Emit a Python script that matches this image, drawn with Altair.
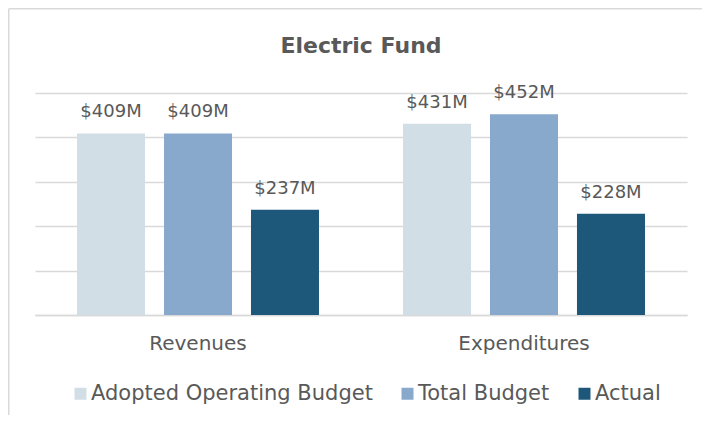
import altair as alt
import pandas as pd

FONT = "DejaVu Sans"
TEXT = "#595959"
GRID = "#d9d9d9"

categories = ["Revenues", "Expenditures"]
series = ["Adopted Operating Budget", "Total Budget", "Actual"]
adopted = [409, 431]
total = [409, 452]
actual = [237, 228]
colors = ["#d1dee6", "#88a9cc", "#1d587a"]
y_ticks = [0, 100, 200, 300, 400, 500]

rows = []
for i, c in enumerate(categories):
    for s, vals in zip(series, [adopted, total, actual]):
        rows.append({"category": c, "series": s, "value": vals[i], "label": f"${vals[i]}M"})
df = pd.DataFrame(rows)

W, H = 652, 222
PL, PT, PR, PB = 27, 85, 15, 100

x = alt.X(
    "category:N", sort=categories, title=None,
    scale=alt.Scale(paddingInner=0, paddingOuter=0),
    axis=alt.Axis(labelAngle=0, labelFontSize=20, labelColor=TEXT, labelFont=FONT,
                  labelPadding=18, ticks=False, domainColor=GRID, domainWidth=1.5, grid=False),
)
xo = alt.XOffset("series:N", sort=series, scale=alt.Scale(paddingInner=0.218, paddingOuter=0.483))
y = alt.Y(
    "value:Q", scale=alt.Scale(domain=[0, 500]),
    axis=alt.Axis(values=y_ticks, labels=False, ticks=False, domain=False,
                  gridColor=GRID, gridWidth=1.3, title=None),
)
color = alt.Color(
    "series:N", sort=series,
    scale=alt.Scale(domain=series, range=colors),
    legend=alt.Legend(title=None, orient="none", legendX=35, legendY=290,
                      direction="horizontal", symbolType="square", symbolSize=144,
                      symbolStrokeWidth=0, labelFontSize=21, labelColor=TEXT, labelFont=FONT,
                      columnPadding=24, labelOffset=0, padding=0, labelLimit=400),
)

base = alt.Chart(df)
bars = base.mark_bar().encode(x=x, xOffset=xo, y=y, color=color)
labels = base.mark_text(baseline="alphabetic", dy=-16, fontSize=18, font=FONT, color=TEXT).encode(
    x=x, xOffset=xo, y=y, text="label:N"
)

frame = pd.DataFrame({"a": [0]})
top_border = alt.Chart(frame).mark_rule(color=GRID, strokeWidth=1.5).encode(
    x=alt.value(-PL + 0.75), x2=alt.value(W + PR), y=alt.value(-PT + 0.75)
)
left_border = alt.Chart(frame).mark_rule(color=GRID, strokeWidth=1.5).encode(
    x=alt.value(-PL + 0.75), y=alt.value(-PT + 0.75), y2=alt.value(H + PB)
)

chart = alt.layer(bars, labels, top_border, left_border).properties(
    width=W, height=H,
    title=alt.TitleParams("Electric Fund", fontSize=22, font=FONT, color=TEXT,
                          fontWeight="bold", anchor="middle", offset=0, dy=50),
    autosize=alt.AutoSizeParams(type="none"),
    padding={"left": PL, "top": PT, "right": PR, "bottom": PB},
).configure(background="white").configure_view(stroke=None)

chart.save("out.html", embed_options={"renderer": "svg", "actions": False})
